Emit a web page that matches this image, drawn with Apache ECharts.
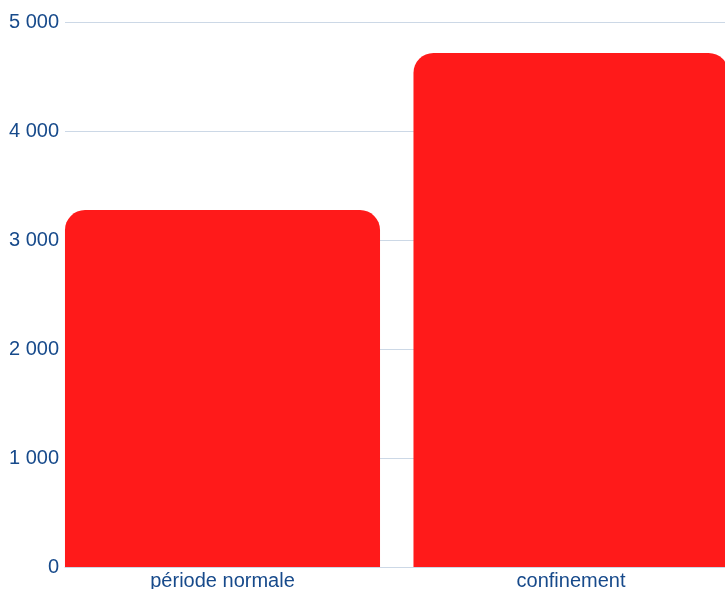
<!DOCTYPE html>
<html>
<head>
<meta charset="utf-8">
<script src="https://cdn.jsdelivr.net/npm/echarts@6/dist/echarts.min.js"></script>
<style>html,body{margin:0;padding:0;background:#fff;overflow:hidden;}#c{width:725px;height:589px;}</style>
</head>
<body>
<div id="c"></div>
<script>
const categories = ['période normale', 'confinement'];
const values = [3275, 4716];
const yTicks = [0, 1000, 2000, 3000, 4000, 5000];

const fmt = v => String(v).replace(/\B(?=(\d{3})+(?!\d))/g, ' ');
const labelColor = '#174a8b';
const gridColor = '#ccd8e6';
const font = 'Liberation Sans, Arial, sans-serif';

const chart = echarts.init(document.getElementById('c'));
chart.setOption({
  animation: false,
  grid: [
    { left: 65, right: 0, top: 22, bottom: 22, outerBoundsMode: 'none', containLabel: false },
    { left: 48.25, width: 697, top: 22, bottom: 22, outerBoundsMode: 'none', containLabel: false }
  ],
  xAxis: [
    { gridIndex: 0, type: 'category', data: categories, show: true,
      axisLine: { show: true, lineStyle: { color: gridColor, width: 1 } },
      axisTick: { show: false }, axisLabel: { show: false }, splitLine: { show: false } },
    { gridIndex: 1, type: 'category', data: categories,
      axisLine: { show: false }, axisTick: { show: false },
      axisLabel: { color: labelColor, fontSize: 20, fontFamily: font, margin: 4 } }
  ],
  yAxis: [
    { gridIndex: 0, type: 'value', min: yTicks[0], max: yTicks[yTicks.length - 1], interval: 1000,
      axisLine: { show: false }, axisTick: { show: false },
      axisLabel: { color: labelColor, fontSize: 20, fontFamily: font, margin: 6, formatter: fmt },
      splitLine: { lineStyle: { color: gridColor, width: 1 } } },
    { gridIndex: 1, type: 'value', min: 0, max: 5000, show: false, splitLine: { show: false } }
  ],
  series: [{
    type: 'bar', xAxisIndex: 1, yAxisIndex: 1, data: values,
    barCategoryGap: '9.6%',
    itemStyle: { color: '#ff1a1a', borderRadius: [20, 20, 0, 0] }
  }]
});
</script>
</body>
</html>
